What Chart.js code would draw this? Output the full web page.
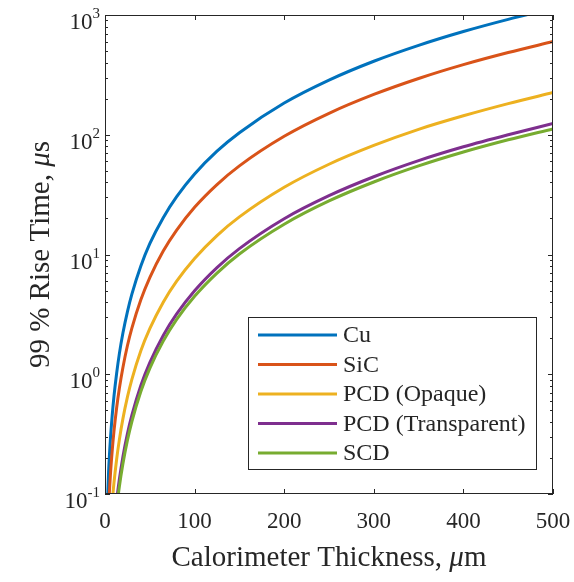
<!DOCTYPE html>
<html>
<head>
<meta charset="utf-8">
<script src="https://cdn.jsdelivr.net/npm/chart.js@4.4.1/dist/chart.umd.min.js"></script>
<style>
  html, body { margin: 0; padding: 0; background: #fff; }
  canvas { display: block; }
</style>
</head>
<body>
<canvas id="chart" width="574" height="582"></canvas>
<script>
/*---------------------------------
   DATA
 ----------------------------------*/
var thickness = [2, 4, 6, 8, 10, 13, 16, 20, 25, 30, 40, 50, 65, 80, 100, 125, 150, 200, 250, 300, 350, 400, 450, 500];

var cu     = [0.0586, 0.153, 0.284, 0.450, 0.653, 1.02, 1.48, 2.21, 3.32, 4.66, 8.01, 12.3, 20.3, 30.4, 47.0, 72.9, 104, 184, 286, 411, 558, 728, 920, 1135];
var sic    = [0.0285, 0.076, 0.143, 0.228, 0.333, 0.525, 0.761, 1.14, 1.73, 2.43, 4.19, 6.42, 10.7, 16.0, 24.8, 38.4, 55.0, 97.1, 151, 217, 295, 385, 486, 600];
var pcdOp  = [0.0104, 0.028, 0.0527, 0.0845, 0.1235, 0.195, 0.283, 0.426, 0.644, 0.906, 1.57, 2.40, 4.00, 5.99, 9.27, 14.4, 20.6, 36.4, 56.7, 81.4, 111, 144, 182, 225];
var pcdTr  = [0.00264, 0.00924, 0.0198, 0.0343, 0.0528, 0.0879, 0.132, 0.205, 0.318, 0.455, 0.805, 1.25, 2.11, 3.19, 4.98, 7.78, 11.2, 19.9, 31.0, 44.6, 60.8, 79.3, 100, 124];
var scd    = [0.00179, 0.00717, 0.0161, 0.0287, 0.0448, 0.0757, 0.115, 0.179, 0.28, 0.403, 0.717, 1.12, 1.89, 2.87, 4.48, 7.0, 10.1, 17.9, 28.0, 40.3, 54.9, 71.7, 90.7, 112];

var names  = ['Cu', 'SiC', 'PCD (Opaque)', 'PCD (Transparent)', 'SCD'];
var colors = ['#0072BD', '#D95319', '#EDB120', '#7E2F8E', '#77AC30'];

var xTicks = [0, 100, 200, 300, 400, 500];
var yExp   = [-1, 0, 1, 2, 3];

var FONT = "'Liberation Serif', 'Times New Roman', serif";
var INK = '#262626';

function pts(vals) {
    return thickness.map(function(x, i) { return { x: x, y: vals[i] }; });
}

var series = [cu, sic, pcdOp, pcdTr, scd];
var datasets = series.map(function(vals, i) {
    return {
        label: names[i],
        data: pts(vals),
        borderColor: colors[i],
        backgroundColor: colors[i],
        borderWidth: 3,
        pointRadius: 0,
        cubicInterpolationMode: 'monotone',
        clip: 0,
        order: series.length - i   // later series drawn on top, like MATLAB
    };
});

// draws "text1 + italic mu + text3" centred on 0,0 of the current transform
function mixedLabel(ctx, size, a, b, c) {
    ctx.font = size + 'px ' + FONT;
    var wa = ctx.measureText(a).width, wc = ctx.measureText(c).width;
    ctx.font = 'italic ' + size + 'px ' + FONT;
    var wb = ctx.measureText(b).width;
    var x0 = -(wa + wb + wc) / 2;
    ctx.textAlign = 'left';
    ctx.font = size + 'px ' + FONT;
    ctx.fillText(a, x0, 0);
    ctx.font = 'italic ' + size + 'px ' + FONT;
    ctx.fillText(b, x0 + wa, 0);
    ctx.font = size + 'px ' + FONT;
    ctx.fillText(c, x0 + wa + wb, 0);
}

/*---------------------------------
   FRAME, TICKS, LABELS, LEGEND
 ----------------------------------*/
var decor = {
    id: 'decor',
    afterDatasetsDraw: function(chart) {
        var ctx = chart.ctx;
        var a = chart.chartArea;
        var xs = chart.scales.x, ys = chart.scales.y;
        ctx.save();

        // box
        ctx.strokeStyle = INK;
        ctx.lineWidth = 1;
        ctx.strokeRect(a.left + 0.5, a.top + 0.5, a.right - a.left - 1, a.bottom - a.top - 1);

        // x ticks (inside, top and bottom)
        ctx.beginPath();
        xTicks.forEach(function(v) {
            var px = Math.round(xs.getPixelForValue(v)) + 0.5;
            ctx.moveTo(px, a.bottom); ctx.lineTo(px, a.bottom - 5);
            ctx.moveTo(px, a.top); ctx.lineTo(px, a.top + 5);
        });
        // y ticks, major and minor
        yExp.forEach(function(e) {
            for (var m = 1; m <= 9; m++) {
                var v = m * Math.pow(10, e);
                if (v > 1000.0001) break;
                var py = Math.round(ys.getPixelForValue(v)) + 0.5;
                var len = m === 1 ? 5 : 3;
                ctx.moveTo(a.left, py); ctx.lineTo(a.left + len, py);
                ctx.moveTo(a.right, py); ctx.lineTo(a.right - len, py);
            }
        });
        ctx.stroke();

        // x tick labels
        ctx.fillStyle = INK;
        ctx.font = '23px ' + FONT;
        ctx.textAlign = 'center';
        ctx.textBaseline = 'alphabetic';
        xTicks.forEach(function(v) {
            ctx.fillText(String(v), xs.getPixelForValue(v), a.bottom + 34);
        });

        // y tick labels: 10^n
        yExp.forEach(function(e) {
            var py = ys.getPixelForValue(Math.pow(10, e));
            var sup = String(e);
            ctx.font = '15px ' + FONT;
            var wSup = ctx.measureText(sup).width;
            ctx.textAlign = 'right';
            ctx.fillText(sup, a.left - 5, py + 3);
            ctx.font = '23px ' + FONT;
            ctx.fillText('10', a.left - 5 - wSup, py + 14);
        });

        // x axis title
        ctx.save();
        ctx.translate((a.left + a.right) / 2, 566);
        mixedLabel(ctx, 29, 'Calorimeter Thickness, ', '\u03bc', 'm');
        ctx.restore();

        // y axis title
        ctx.save();
        ctx.translate(49, (a.top + a.bottom) / 2);
        ctx.rotate(-Math.PI / 2);
        mixedLabel(ctx, 29, '99 % Rise Time, ', '\u03bc', 's');
        ctx.restore();

        // legend
        var lx = 248, ly = 317, lw = 289, lh = 153;
        ctx.fillStyle = '#fff';
        ctx.fillRect(lx, ly, lw, lh);
        ctx.strokeStyle = INK;
        ctx.lineWidth = 1;
        ctx.strokeRect(lx + 0.5, ly + 0.5, lw - 1, lh - 1);
        ctx.font = '24px ' + FONT;
        ctx.textBaseline = 'middle';
        ctx.textAlign = 'left';
        names.forEach(function(n, i) {
            var ry = ly + 18 + i * 29.5;
            ctx.strokeStyle = colors[i];
            ctx.lineWidth = 3;
            ctx.beginPath();
            ctx.moveTo(lx + 10, ry); ctx.lineTo(lx + 89, ry);
            ctx.stroke();
            ctx.fillStyle = INK;
            ctx.fillText(n, lx + 95, ry + 1);
        });

        ctx.restore();
    }
};

/*---------------------------------
   CHART
 ----------------------------------*/
var ctx = document.getElementById('chart').getContext('2d');
window.riseChart = new Chart(ctx, {
    type: 'line',
    data: { datasets: datasets },
    options: {
        responsive: false,
        animation: false,
        devicePixelRatio: 1,
        layout: { padding: { top: 15, right: 21, left: 0, bottom: 0 } },
        plugins: { legend: { display: false }, tooltip: { enabled: false } },
        scales: {
            x: {
                type: 'linear', min: 0, max: 500,
                grid: { display: false, drawTicks: false },
                border: { display: false },
                ticks: { display: false },
                afterFit: function(s) { s.height = 88; }
            },
            y: {
                type: 'logarithmic', min: 0.1, max: 1000,
                grid: { display: false, drawTicks: false },
                border: { display: false },
                ticks: { display: false },
                afterFit: function(s) { s.width = 105; }
            }
        }
    },
    plugins: [decor]
});
</script>
</body>
</html>
